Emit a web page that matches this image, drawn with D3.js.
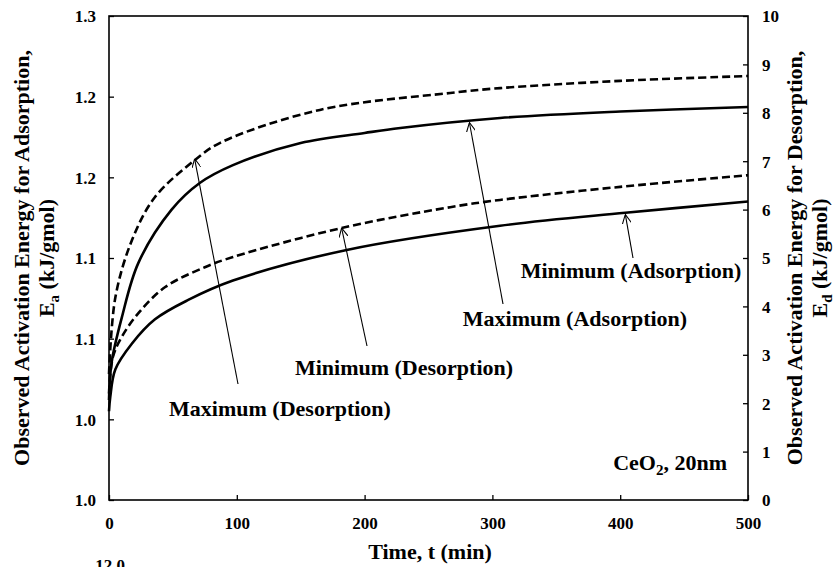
<!DOCTYPE html>
<html>
<head>
<meta charset="utf-8">
<script src="https://cdn.jsdelivr.net/npm/d3@7"></script>
<style>
  body { margin: 0; background: #fff; }
  text { font-family: "Liberation Serif", "Times New Roman", serif; font-weight: bold; fill: #000; }
</style>
</head>
<body>
<script>
// time axis ticks
var timeTicks = [0, 100, 200, 300, 400, 500];
// left axis (adsorption) ticks and the labels as they appear
var leftTicks = [1.00, 1.05, 1.10, 1.15, 1.20, 1.25, 1.30];
var leftLabels = ["1.0", "1.0", "1.1", "1.1", "1.2", "1.2", "1.3"];
// right axis (desorption)
var rightTicks = [0, 1, 2, 3, 4, 5, 6, 7, 8, 9, 10];

// Maximum (Adsorption) - solid, left axis
var maxAdsT = [0, 2, 10, 23, 49, 71, 97, 150, 200, 228, 306, 400, 500];
var maxAdsE = [1.062, 1.085, 1.113, 1.147, 1.180, 1.1965, 1.2076, 1.2213, 1.2275, 1.2306, 1.2368, 1.2408, 1.2436];
// Minimum (Adsorption) - solid, left axis
var minAdsT = [0, 1, 5, 18, 36, 62, 97, 186, 306, 404, 500];
var minAdsE = [1.055, 1.064, 1.081, 1.097, 1.112, 1.124, 1.136, 1.155, 1.170, 1.178, 1.185];
// Maximum (Desorption) - dashed, right axis
var maxDesT = [0, 5, 18, 36, 67, 87, 165, 267, 306, 400, 500];
var maxDesE = [2.60, 4.19, 5.37, 6.26, 7.02, 7.38, 8.06, 8.41, 8.51, 8.66, 8.76];
// Minimum (Desorption) - dashed, right axis
var minDesT = [0, 3, 10, 23, 44, 75, 97, 182, 267, 306, 400, 500];
var minDesE = [2.20, 2.95, 3.37, 3.86, 4.40, 4.81, 5.02, 5.62, 6.05, 6.20, 6.47, 6.71];

var W = 836, H = 567;
var m = { left: 109, top: 16, right: 88, bottom: 67 };
var iw = W - m.left - m.right, ih = H - m.top - m.bottom;

var svg = d3.select('body').append('svg')
  .attr('width', W)
  .attr('height', H);

var x = d3.scaleLinear().domain([0, 500]).range([m.left, m.left + iw]);
var yL = d3.scaleLinear().domain([1.0, 1.3]).range([m.top + ih, m.top]);
var yR = d3.scaleLinear().domain([0, 10]).range([m.top + ih, m.top]);

// axes, ticks point inward
var xAxis = svg.append('g').attr('transform', 'translate(0,' + (m.top + ih) + ')')
  .call(d3.axisTop(x).tickValues(timeTicks).tickSize(5).tickFormat(''));
xAxis.selectAll('.tick').append('text')
  .attr('y', 29).attr('text-anchor', 'middle').style('font-size', '17px')
  .text(function(d){ return d; });

var lAxis = svg.append('g').attr('transform', 'translate(' + m.left + ',0)')
  .call(d3.axisRight(yL).tickValues(leftTicks).tickSize(5).tickFormat(''));
lAxis.selectAll('.tick').append('text')
  .attr('x', -13).attr('dy', '0.35em').attr('text-anchor', 'end').style('font-size', '17px')
  .text(function(d, i){ return leftLabels[i]; });

var rAxis = svg.append('g').attr('transform', 'translate(' + (m.left + iw) + ',0)')
  .call(d3.axisLeft(yR).tickValues(rightTicks).tickSize(5).tickFormat(''));
rAxis.selectAll('.tick').append('text')
  .attr('x', 14).attr('dy', '0.35em').attr('text-anchor', 'start').style('font-size', '17px')
  .text(function(d){ return d; });

svg.selectAll('.domain').remove();
svg.selectAll('.tick line').attr('stroke', '#000').attr('stroke-width', 1.3);

// frame
svg.append('rect')
  .attr('x', m.left).attr('y', m.top).attr('width', iw).attr('height', ih)
  .attr('fill', 'none').attr('stroke', '#000').attr('stroke-width', 1.6);

var lineL = d3.line().x(function(d){ return x(d[0]); }).y(function(d){ return yL(d[1]); }).curve(d3.curveCatmullRom.alpha(0.5));
var lineR = d3.line().x(function(d){ return x(d[0]); }).y(function(d){ return yR(d[1]); }).curve(d3.curveCatmullRom.alpha(0.5));

var series = [
  { t: maxAdsT, e: maxAdsE, line: lineL, dash: null },
  { t: minAdsT, e: minAdsE, line: lineL, dash: null },
  { t: maxDesT, e: maxDesE, line: lineR, dash: '8,4' },
  { t: minDesT, e: minDesE, line: lineR, dash: '8,4' }
];

svg.append('g').selectAll('path').data(series)
  .enter()
  .append('path')
  .attr('d', function(s){ return s.line(s.t.map(function(t, i){ return [t, s.e[i]]; })); })
  .attr('fill', 'none')
  .attr('stroke', '#000')
  .attr('stroke-width', 2.6)
  .attr('stroke-dasharray', function(s){ return s.dash; });

// annotations: label, label position, line start, arrow tip (in data units)
var notes = [
  { text: 'Maximum (Desorption)', lx: 280, ly: 416, sx: 238, sy: 384, tip: [67, 7.05], y: yR },
  { text: 'Minimum (Desorption)', lx: 404, ly: 375, sx: 367, sy: 346, tip: [182, 5.62], y: yR },
  { text: 'Maximum (Adsorption)', lx: 575, ly: 326, sx: 503, sy: 304, tip: [282, 1.234], y: yL },
  { text: 'Minimum (Adsorption)', lx: 631, ly: 278, sx: 633, sy: 258, tip: [404, 1.177], y: yL }
];

svg.append('defs').append('marker')
  .attr('id', 'arr').attr('viewBox', '0 0 10 10').attr('refX', 10).attr('refY', 5)
  .attr('markerWidth', 9).attr('markerHeight', 9).attr('markerUnits', 'userSpaceOnUse')
  .attr('orient', 'auto')
  .append('path').attr('d', 'M0,0 L10,5 L0,10').attr('fill', 'none').attr('stroke', '#000').attr('stroke-width', 1.2);

var ng = svg.append('g');
notes.forEach(function(n){
  ng.append('line')
    .attr('x1', n.sx).attr('y1', n.sy)
    .attr('x2', x(n.tip[0])).attr('y2', n.y(n.tip[1]))
    .attr('stroke', '#000').attr('stroke-width', 1.1)
    .attr('marker-end', 'url(#arr)');
  ng.append('text')
    .attr('x', n.lx).attr('y', n.ly)
    .attr('text-anchor', 'middle').style('font-size', '22px')
    .text(n.text);
});

// sample label
var ce = svg.append('text').attr('x', 727).attr('y', 470).attr('text-anchor', 'end').style('font-size', '22px');
ce.append('tspan').text('CeO');
ce.append('tspan').attr('dy', 5).style('font-size', '15px').text('2');
ce.append('tspan').attr('dy', -5).text(', 20nm');

// axis titles
svg.append('text').attr('x', 430).attr('y', 559).attr('text-anchor', 'middle')
  .style('font-size', '22px').text('Time, t (min)');

var lt = svg.append('g').attr('transform', 'translate(29,' + (m.top + ih / 2) + ') rotate(-90)');
lt.append('text').attr('text-anchor', 'middle').style('font-size', '22px')
  .text('Observed Activation Energy for Adsorption,');
var lt2 = lt.append('text').attr('y', 25).attr('text-anchor', 'middle').style('font-size', '22px');
lt2.append('tspan').text('E');
lt2.append('tspan').attr('dy', 5).style('font-size', '15px').text('a');
lt2.append('tspan').attr('dy', -5).text(' (kJ/gmol)');

var rt = svg.append('g').attr('transform', 'translate(802,' + (m.top + ih / 2) + ') rotate(-90)');
rt.append('text').attr('text-anchor', 'middle').style('font-size', '22px')
  .text('Observed Activation Energy for Desorption,');
var rt2 = rt.append('text').attr('y', 25).attr('text-anchor', 'middle').style('font-size', '22px');
rt2.append('tspan').text('E');
rt2.append('tspan').attr('dy', 5).style('font-size', '15px').text('d');
rt2.append('tspan').attr('dy', -5).text(' (kJ/gmol)');

// top of the next figure's label, cut off at the bottom edge
svg.append('text').attr('x', 110).attr('y', 571).attr('text-anchor', 'middle').style('font-size', '17px').text('12.0');
</script>
</body>
</html>
